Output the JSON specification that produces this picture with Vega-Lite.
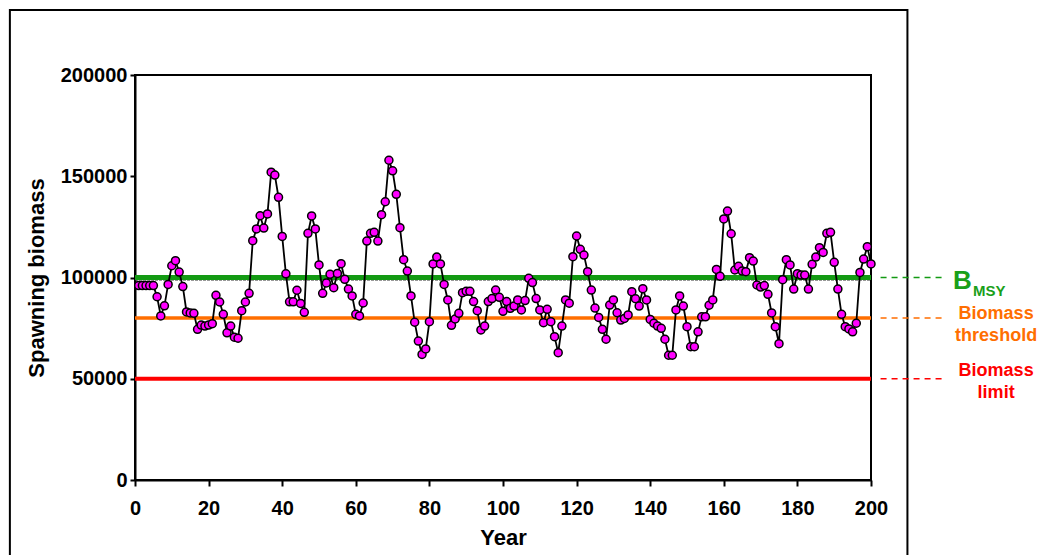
{
  "$schema": "https://vega.github.io/schema/vega-lite/v6.json",
  "width": 736,
  "height": 405,
  "autosize": {"type": "none"},
  "padding": {"left": 135, "top": 75, "right": 171, "bottom": 75},
  "background": "white",
  "config": {
    "view": {"stroke": "black", "strokeWidth": 2},
    "font": "Liberation Sans"
  },
  "datasets": {
    "biomass": [
      {"year": 1, "biomass": 96000}, {"year": 2, "biomass": 96000}, {"year": 3, "biomass": 96000}, {"year": 4, "biomass": 96000}, {"year": 5, "biomass": 96000},
      {"year": 6, "biomass": 90500}, {"year": 7, "biomass": 81000}, {"year": 8, "biomass": 86000}, {"year": 9, "biomass": 96600}, {"year": 10, "biomass": 105800},
      {"year": 11, "biomass": 108300}, {"year": 12, "biomass": 102700}, {"year": 13, "biomass": 95500}, {"year": 14, "biomass": 83000}, {"year": 15, "biomass": 82500},
      {"year": 16, "biomass": 82300}, {"year": 17, "biomass": 74400}, {"year": 18, "biomass": 76500}, {"year": 19, "biomass": 76000}, {"year": 20, "biomass": 76500},
      {"year": 21, "biomass": 77200}, {"year": 22, "biomass": 91200}, {"year": 23, "biomass": 87900}, {"year": 24, "biomass": 81800}, {"year": 25, "biomass": 72700},
      {"year": 26, "biomass": 76000}, {"year": 27, "biomass": 70500}, {"year": 28, "biomass": 70000}, {"year": 29, "biomass": 83600}, {"year": 30, "biomass": 87900},
      {"year": 31, "biomass": 92200}, {"year": 32, "biomass": 118200}, {"year": 33, "biomass": 124000}, {"year": 34, "biomass": 130500}, {"year": 35, "biomass": 124400},
      {"year": 36, "biomass": 131400}, {"year": 37, "biomass": 152000}, {"year": 38, "biomass": 150600}, {"year": 39, "biomass": 139600}, {"year": 40, "biomass": 120300},
      {"year": 41, "biomass": 101800}, {"year": 42, "biomass": 88000}, {"year": 43, "biomass": 88000}, {"year": 44, "biomass": 93700}, {"year": 45, "biomass": 87200},
      {"year": 46, "biomass": 82800}, {"year": 47, "biomass": 121800}, {"year": 48, "biomass": 130400}, {"year": 49, "biomass": 124000}, {"year": 50, "biomass": 106200},
      {"year": 51, "biomass": 92200}, {"year": 52, "biomass": 97300}, {"year": 53, "biomass": 101600}, {"year": 54, "biomass": 95000}, {"year": 55, "biomass": 102000},
      {"year": 56, "biomass": 106800}, {"year": 57, "biomass": 99100}, {"year": 58, "biomass": 94300}, {"year": 59, "biomass": 90900}, {"year": 60, "biomass": 81800},
      {"year": 61, "biomass": 81000}, {"year": 62, "biomass": 87400}, {"year": 63, "biomass": 118000}, {"year": 64, "biomass": 121800}, {"year": 65, "biomass": 122300},
      {"year": 66, "biomass": 118000}, {"year": 67, "biomass": 131000}, {"year": 68, "biomass": 137400}, {"year": 69, "biomass": 157900}, {"year": 70, "biomass": 152700},
      {"year": 71, "biomass": 141100}, {"year": 72, "biomass": 124600}, {"year": 73, "biomass": 108800}, {"year": 74, "biomass": 103200}, {"year": 75, "biomass": 90900},
      {"year": 76, "biomass": 77900}, {"year": 77, "biomass": 68600}, {"year": 78, "biomass": 62000}, {"year": 79, "biomass": 64700}, {"year": 80, "biomass": 78200},
      {"year": 81, "biomass": 106700}, {"year": 82, "biomass": 110100}, {"year": 83, "biomass": 106700}, {"year": 84, "biomass": 96600}, {"year": 85, "biomass": 88900},
      {"year": 86, "biomass": 76400}, {"year": 87, "biomass": 79500}, {"year": 88, "biomass": 82300}, {"year": 89, "biomass": 92500}, {"year": 90, "biomass": 93200},
      {"year": 91, "biomass": 93200}, {"year": 92, "biomass": 88100}, {"year": 93, "biomass": 83600}, {"year": 94, "biomass": 74100}, {"year": 95, "biomass": 76000},
      {"year": 96, "biomass": 88100}, {"year": 97, "biomass": 89600}, {"year": 98, "biomass": 93800}, {"year": 99, "biomass": 90200}, {"year": 100, "biomass": 83300},
      {"year": 101, "biomass": 88100}, {"year": 102, "biomass": 84800}, {"year": 103, "biomass": 85900}, {"year": 104, "biomass": 88900}, {"year": 105, "biomass": 84000},
      {"year": 106, "biomass": 88600}, {"year": 107, "biomass": 99600}, {"year": 108, "biomass": 97500}, {"year": 109, "biomass": 89600}, {"year": 110, "biomass": 84000},
      {"year": 111, "biomass": 77700}, {"year": 112, "biomass": 84300}, {"year": 113, "biomass": 78200}, {"year": 114, "biomass": 70800}, {"year": 115, "biomass": 62900},
      {"year": 116, "biomass": 76000}, {"year": 117, "biomass": 88900}, {"year": 118, "biomass": 87300}, {"year": 119, "biomass": 110300}, {"year": 120, "biomass": 120500},
      {"year": 121, "biomass": 113900}, {"year": 122, "biomass": 111100}, {"year": 123, "biomass": 102900}, {"year": 124, "biomass": 93800}, {"year": 125, "biomass": 84900},
      {"year": 126, "biomass": 80300}, {"year": 127, "biomass": 74400}, {"year": 128, "biomass": 69500}, {"year": 129, "biomass": 86400}, {"year": 130, "biomass": 88900},
      {"year": 131, "biomass": 82600}, {"year": 132, "biomass": 79000}, {"year": 133, "biomass": 79800}, {"year": 134, "biomass": 81500}, {"year": 135, "biomass": 93000},
      {"year": 136, "biomass": 89500}, {"year": 137, "biomass": 85900}, {"year": 138, "biomass": 94500}, {"year": 139, "biomass": 88900}, {"year": 140, "biomass": 79300},
      {"year": 141, "biomass": 77400}, {"year": 142, "biomass": 76000}, {"year": 143, "biomass": 74900}, {"year": 144, "biomass": 69500}, {"year": 145, "biomass": 61600},
      {"year": 146, "biomass": 61600}, {"year": 147, "biomass": 84000}, {"year": 148, "biomass": 90900}, {"year": 149, "biomass": 85900}, {"year": 150, "biomass": 75700},
      {"year": 151, "biomass": 65800}, {"year": 152, "biomass": 65800}, {"year": 153, "biomass": 73200}, {"year": 154, "biomass": 80600}, {"year": 155, "biomass": 80600},
      {"year": 156, "biomass": 86300}, {"year": 157, "biomass": 88900}, {"year": 158, "biomass": 104000}, {"year": 159, "biomass": 100600}, {"year": 160, "biomass": 128900},
      {"year": 161, "biomass": 132800}, {"year": 162, "biomass": 121600}, {"year": 163, "biomass": 103700}, {"year": 164, "biomass": 105500}, {"year": 165, "biomass": 103200},
      {"year": 166, "biomass": 102900}, {"year": 167, "biomass": 109800}, {"year": 168, "biomass": 108100}, {"year": 169, "biomass": 96300}, {"year": 170, "biomass": 95300},
      {"year": 171, "biomass": 96000}, {"year": 172, "biomass": 91700}, {"year": 173, "biomass": 82500}, {"year": 174, "biomass": 75700}, {"year": 175, "biomass": 67300},
      {"year": 176, "biomass": 98900}, {"year": 177, "biomass": 108800}, {"year": 178, "biomass": 106200}, {"year": 179, "biomass": 94300}, {"year": 180, "biomass": 101900},
      {"year": 181, "biomass": 101200}, {"year": 182, "biomass": 101200}, {"year": 183, "biomass": 94300}, {"year": 184, "biomass": 106500}, {"year": 185, "biomass": 110100},
      {"year": 186, "biomass": 114700}, {"year": 187, "biomass": 112400}, {"year": 188, "biomass": 121800}, {"year": 189, "biomass": 122300}, {"year": 190, "biomass": 107500},
      {"year": 191, "biomass": 94300}, {"year": 192, "biomass": 81800}, {"year": 193, "biomass": 75700}, {"year": 194, "biomass": 74600}, {"year": 195, "biomass": 73200},
      {"year": 196, "biomass": 77400}, {"year": 197, "biomass": 102500}, {"year": 198, "biomass": 109100}, {"year": 199, "biomass": 115200}, {"year": 200, "biomass": 106700}
    ],
    "one": [{}]
  },
  "layer": [
    {
      "data": {"name": "biomass"},
      "mark": {"type": "line", "color": "black", "strokeWidth": 1.8, "opacity": 0},
      "encoding": {
        "x": {
          "field": "year", "type": "quantitative",
          "scale": {"domain": [0, 200], "nice": false, "zero": false},
          "axis": {
            "title": "Year", "values": [0, 20, 40, 60, 80, 100, 120, 140, 160, 180, 200],
            "grid": false, "labelFlush": false, "labelOverlap": false, "labelBound": false,
            "labelFontSize": 20, "labelFontWeight": "bold", "labelColor": "black", "labelPadding": 12,
            "titleFontSize": 22, "titleFontWeight": "bold", "titleColor": "black", "titlePadding": 9,
            "domainColor": "black", "domainWidth": 2, "tickColor": "black", "tickWidth": 2, "tickSize": 6
          }
        },
        "y": {
          "field": "biomass", "type": "quantitative",
          "scale": {"domain": [0, 200000], "nice": false},
          "axis": {
            "title": "Spawning biomass", "values": [0, 50000, 100000, 150000, 200000], "format": "d",
            "grid": false, "labelFlush": false, "labelOverlap": false, "labelBound": false,
            "labelFontSize": 20, "labelFontWeight": "bold", "labelColor": "black", "labelPadding": 3,
            "titleFontSize": 22, "titleFontWeight": "bold", "titleColor": "black", "titlePadding": 12,
            "domainColor": "black", "domainWidth": 2, "tickColor": "black", "tickWidth": 2, "tickSize": 5
          }
        }
      }
    },
    {
      "data": {"name": "one"},
      "mark": {"type": "rect", "fill": "transparent", "stroke": "black", "strokeWidth": 2},
      "encoding": {
        "x": {"datum": -34, "type": "quantitative"},
        "x2": {"datum": 209.9},
        "y": {"datum": 232100, "type": "quantitative"},
        "y2": {"datum": -45000}
      }
    },
    {
      "data": {"name": "one"},
      "mark": {"type": "rule", "color": "#333333", "strokeWidth": 1.5, "strokeDash": [3, 1]},
      "encoding": {
        "x": {"datum": 0, "type": "quantitative"},
        "x2": {"datum": 200},
        "y": {"datum": 98900, "type": "quantitative"}
      }
    },
    {
      "data": {"name": "one"},
      "mark": {"type": "rule", "color": "#139A13", "strokeWidth": 5},
      "encoding": {
        "x": {"datum": 0, "type": "quantitative"},
        "x2": {"datum": 200},
        "y": {"datum": 100000, "type": "quantitative"}
      }
    },
    {
      "data": {"name": "one"},
      "mark": {"type": "rule", "color": "#FF6E00", "strokeWidth": 3.5},
      "encoding": {
        "x": {"datum": 0, "type": "quantitative"},
        "x2": {"datum": 200},
        "y": {"datum": 80000, "type": "quantitative"}
      }
    },
    {
      "data": {"name": "one"},
      "mark": {"type": "rule", "color": "#FF0000", "strokeWidth": 4},
      "encoding": {
        "x": {"datum": 0, "type": "quantitative"},
        "x2": {"datum": 200},
        "y": {"datum": 50000, "type": "quantitative"}
      }
    },
    {
      "data": {"name": "biomass"},
      "mark": {"type": "line", "color": "black", "strokeWidth": 1.8},
      "encoding": {
        "x": {"field": "year", "type": "quantitative"},
        "y": {"field": "biomass", "type": "quantitative"}
      }
    },
    {
      "data": {"name": "biomass"},
      "mark": {"type": "point", "filled": true, "fill": "#FF00FF", "stroke": "black", "strokeWidth": 1.5, "size": 64, "opacity": 1},
      "encoding": {
        "x": {"field": "year", "type": "quantitative"},
        "y": {"field": "biomass", "type": "quantitative"}
      }
    },
    {
      "data": {"name": "one"},
      "mark": {"type": "rule", "color": "#139A13", "strokeWidth": 1.5, "strokeDash": [6, 5]},
      "encoding": {
        "x": {"datum": 202.6, "type": "quantitative"},
        "x2": {"datum": 219.2},
        "y": {"datum": 100000, "type": "quantitative"}
      }
    },
    {
      "data": {"name": "one"},
      "mark": {"type": "rule", "color": "#FF6E00", "strokeWidth": 1.5, "strokeDash": [6, 5]},
      "encoding": {
        "x": {"datum": 202.6, "type": "quantitative"},
        "x2": {"datum": 219.2},
        "y": {"datum": 80000, "type": "quantitative"}
      }
    },
    {
      "data": {"name": "one"},
      "mark": {"type": "rule", "color": "#FF0000", "strokeWidth": 1.5, "strokeDash": [6, 5]},
      "encoding": {
        "x": {"datum": 202.6, "type": "quantitative"},
        "x2": {"datum": 219.2},
        "y": {"datum": 50000, "type": "quantitative"}
      }
    },
    {
      "data": {"name": "one"},
      "mark": {"type": "text", "text": "B", "align": "left", "baseline": "middle", "dy": 3, "fontSize": 26, "fontWeight": "bold", "color": "#1AA01A"},
      "encoding": {
        "x": {"datum": 222.3, "type": "quantitative"},
        "y": {"datum": 100000, "type": "quantitative"}
      }
    },
    {
      "data": {"name": "one"},
      "mark": {"type": "text", "text": "MSY", "align": "left", "baseline": "middle", "dy": 13, "fontSize": 15, "fontWeight": "bold", "color": "#1AA01A"},
      "encoding": {
        "x": {"datum": 227.7, "type": "quantitative"},
        "y": {"datum": 100000, "type": "quantitative"}
      }
    },
    {
      "data": {"name": "one"},
      "mark": {"type": "text", "text": ["Biomass", "threshold"], "align": "center", "baseline": "middle", "dy": -4, "lineHeight": 22, "fontSize": 18, "fontWeight": "bold", "color": "#FF6E00"},
      "encoding": {
        "x": {"datum": 234, "type": "quantitative"},
        "y": {"datum": 80000, "type": "quantitative"}
      }
    },
    {
      "data": {"name": "one"},
      "mark": {"type": "text", "text": ["Biomass", "limit"], "align": "center", "baseline": "middle", "dy": -8, "lineHeight": 22, "fontSize": 18, "fontWeight": "bold", "color": "#FF0000"},
      "encoding": {
        "x": {"datum": 234, "type": "quantitative"},
        "y": {"datum": 50000, "type": "quantitative"}
      }
    }
  ]
}
